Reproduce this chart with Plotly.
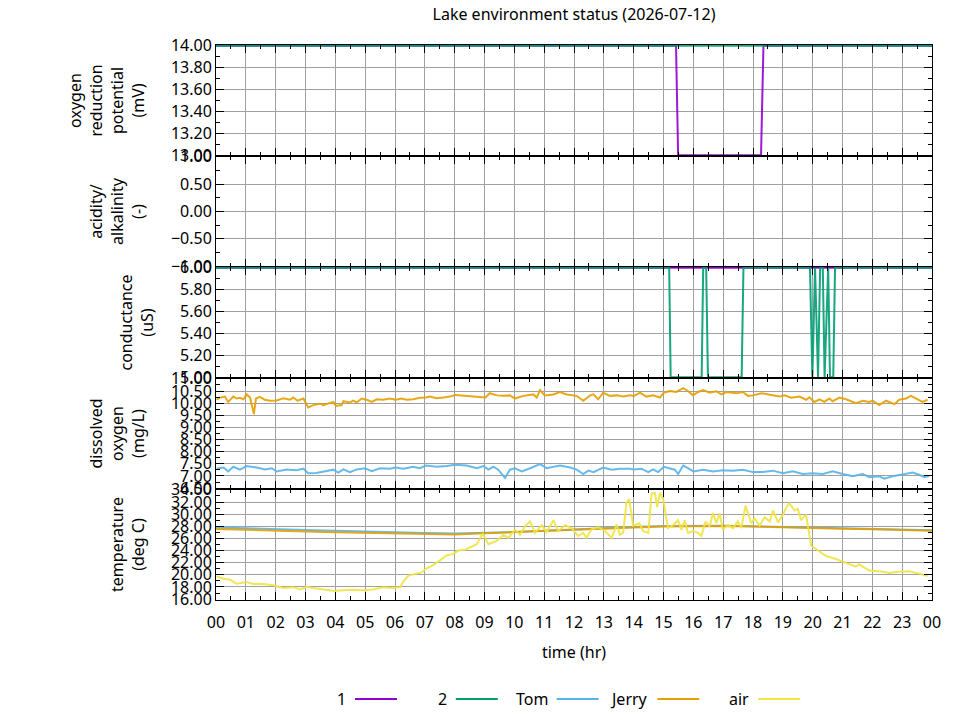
import plotly.graph_objects as go
from plotly.subplots import make_subplots

# ---- data (hours since midnight) ----
hour_ticks = list(range(25))
hour_labels = ["00", "01", "02", "03", "04", "05", "06", "07", "08", "09", "10", "11",
               "12", "13", "14", "15", "16", "17", "18", "19", "20", "21", "22", "23", "00"]

# oxygen reduction potential (mV)
orp1_t = [0, 15.42, 15.49, 18.27, 18.35, 24]
orp1_v = [14, 14, 13, 13, 14, 14]
orp2_t = [0, 24]
orp2_v = [14, 14]

# conductance (uS)
cond1_t = [0, 24]
cond1_v = [6, 6]
cond2_t = [0, 15.19, 15.24, 16.28, 16.33, 16.43, 16.49, 17.62, 17.68, 19.91, 19.99,
           20.08, 20.18, 20.25, 20.34, 20.40, 20.52, 20.58, 20.69, 20.75, 24]
cond2_v = [6, 6, 5, 5, 6, 6, 5, 5, 6, 6, 5, 6, 5, 6, 6, 5, 6, 5, 5, 6, 6]

# dissolved oxygen (mg/L)
do_tom_t = [0.02, 0.25, 0.41, 0.58, 0.80, 1.03, 1.36, 1.64, 1.87, 2.03, 2.37, 2.70,
            2.93, 3.09, 3.37, 3.60, 3.93, 4.10, 4.27, 4.49, 4.72, 4.99, 5.22, 5.50,
            5.83, 6.02, 6.28, 6.61, 6.84, 7.03, 7.40, 7.73, 8.02, 8.40, 8.74, 8.96,
            9.13, 9.30, 9.46, 9.69, 9.85, 10.02, 10.25, 10.53, 10.86, 11.08, 11.53, 11.87,
            12.09, 12.31, 12.48, 12.65, 12.81, 12.98, 13.26, 13.54, 13.87, 14.01, 14.26, 14.49,
            14.65, 14.82, 15.01, 15.21, 15.38, 15.49, 15.66, 15.82, 16.00, 16.33, 16.66, 16.99,
            17.33, 17.66, 18.00, 18.33, 18.67, 19.00, 19.34, 19.67, 20.00, 20.34, 20.67, 21.01,
            21.34, 21.68, 21.90, 22.23, 22.40, 22.68, 23.01, 23.35, 23.57, 23.74, 23.91]
do_tom_v = [7.30, 7.35, 7.19, 7.38, 7.26, 7.41, 7.35, 7.27, 7.32, 7.19, 7.27, 7.24,
            7.30, 7.11, 7.12, 7.19, 7.26, 7.14, 7.27, 7.16, 7.27, 7.32, 7.20, 7.32,
            7.30, 7.35, 7.30, 7.38, 7.32, 7.43, 7.38, 7.41, 7.46, 7.43, 7.32, 7.41,
            7.26, 7.38, 7.26, 6.92, 7.26, 7.32, 7.19, 7.32, 7.49, 7.32, 7.43, 7.35,
            7.26, 7.08, 7.22, 7.16, 7.26, 7.35, 7.26, 7.30, 7.30, 7.27, 7.30, 7.16,
            7.27, 7.16, 7.38, 7.32, 7.26, 7.08, 7.43, 7.32, 7.19, 7.26, 7.19, 7.24,
            7.22, 7.26, 7.16, 7.16, 7.22, 7.11, 7.19, 7.08, 7.11, 7.08, 7.19, 7.08,
            6.99, 7.08, 6.95, 6.99, 6.89, 6.99, 7.05, 7.14, 7.05, 6.95, 7.00]

do_jerry_t = [0.02, 0.13, 0.30, 0.41, 0.58, 0.69, 0.80, 0.92, 1.03, 1.14, 1.23, 1.27,
              1.34, 1.47, 1.64, 1.81, 2.03, 2.26, 2.48, 2.59, 2.73, 2.93, 3.09, 3.26,
              3.49, 3.60, 3.77, 3.93, 4.02, 4.21, 4.27, 4.49, 4.60, 4.72, 4.88, 5.05,
              5.22, 5.39, 5.61, 5.83, 6.02, 6.22, 6.39, 6.61, 6.84, 7.03, 7.17, 7.40,
              7.62, 7.84, 8.02, 8.29, 8.63, 9.03, 9.18, 9.41, 9.63, 9.85, 10.02, 10.30,
              10.64, 10.75, 10.86, 11.02, 11.31, 11.53, 11.75,
              12.09, 12.31, 12.54, 12.65, 12.81, 12.98, 13.20, 13.43, 13.65, 13.87, 14.01, 14.21,
              14.43, 14.65, 14.88, 15.01, 15.21, 15.43, 15.66, 15.82, 15.99, 16.16, 16.33, 16.55,
              16.77, 16.94, 17.11, 17.44, 17.66, 17.83, 18.00, 18.28, 18.56, 18.89, 19.06, 19.28,
              19.56, 19.78, 19.89, 20.06, 20.23, 20.39, 20.56, 20.67, 20.90, 21.12, 21.45, 21.68,
              21.90, 22.01, 22.23, 22.46, 22.74, 22.90, 23.13, 23.29, 23.52, 23.68, 23.85]
do_jerry_v = [10.14, 10.23, 10.27, 10.05, 10.27, 10.19, 10.22, 10.16, 10.36, 10.23, 9.76, 9.55,
              10.19, 10.26, 10.14, 10.10, 10.11, 10.20, 10.14, 10.23, 10.10, 10.19, 9.82, 9.92,
              9.97, 9.92, 9.99, 10.05, 9.89, 9.92, 10.08, 10.03, 10.10, 10.03, 10.19, 10.14,
              10.05, 10.16, 10.14, 10.19, 10.14, 10.19, 10.14, 10.16, 10.22, 10.23, 10.27, 10.20,
              10.23, 10.27, 10.34, 10.30, 10.27, 10.23, 10.41, 10.32, 10.30, 10.32, 10.19, 10.30,
              10.36, 10.23, 10.54, 10.32, 10.36, 10.46, 10.36,
              10.30, 10.10, 10.32, 10.36, 10.16, 10.43, 10.30, 10.32, 10.27, 10.32, 10.30, 10.43,
              10.27, 10.32, 10.23, 10.43, 10.50, 10.46, 10.62, 10.50, 10.32, 10.46, 10.54, 10.43,
              10.49, 10.36, 10.46, 10.41, 10.46, 10.30, 10.32, 10.41, 10.35, 10.27, 10.32, 10.22,
              10.27, 10.14, 10.24, 10.05, 10.16, 10.05, 10.19, 10.08, 10.23, 10.16, 10.00, 10.10,
              10.05, 10.10, 9.92, 10.10, 9.96, 10.14, 10.19, 10.30, 10.16, 10.05, 10.14]

# temperature (deg C)
water_t = list(range(25))
temp_tom_v = [27.80, 27.70, 27.55, 27.40, 27.25, 27.10, 27.00, 26.90, 26.80, 26.90, 27.05, 27.25,
              27.50, 27.70, 27.90, 28.05, 28.10, 28.10, 28.00, 27.90, 27.80, 27.70, 27.60, 27.50, 27.35]
temp_jerry_v = [27.55, 27.45, 27.30, 27.15, 27.00, 26.90, 26.80, 26.70, 26.65, 26.85, 27.05, 27.25,
                27.50, 27.65, 27.80, 27.95, 28.00, 28.05, 27.95, 27.80, 27.70, 27.60, 27.50, 27.40, 27.25]

air_t = [0.02, 0.25, 0.47, 0.69, 1.03, 1.25, 1.59, 1.92, 2.26, 2.59, 2.82, 3.04,
         3.37, 3.71, 3.99, 4.27, 4.60, 4.94, 5.27, 5.61, 5.89, 6.17, 6.28, 6.45,
         6.67, 6.89, 7.06, 7.28, 7.51, 7.73, 7.96, 8.12, 8.35, 8.51, 8.74, 8.94,
         9.13, 9.41, 9.63, 9.80, 10.02, 10.19, 10.36, 10.53, 10.69, 10.92, 11.08, 11.31,
         11.47, 11.70, 11.92,
         12.14, 12.31, 12.42, 12.59, 12.81, 13.04, 13.26, 13.43, 13.54, 13.65, 13.76, 13.85,
         13.98, 14.19, 14.32, 14.49, 14.60, 14.71, 14.79, 14.88, 14.99, 15.15, 15.32, 15.49,
         15.60, 15.71, 15.82, 15.99, 16.16, 16.27, 16.41, 16.55, 16.66, 16.77, 16.88, 16.99,
         17.16, 17.33, 17.49, 17.61, 17.75, 17.94, 18.05, 18.22, 18.39, 18.56, 18.67, 18.84,
         19.00, 19.12, 19.22, 19.39, 19.50, 19.61, 19.73, 19.78, 19.95, 20.17, 20.45, 20.78,
         21.12, 21.45, 21.56, 21.90, 22.34, 22.57, 22.90, 23.24, 23.57, 23.85]
air_v = [19.72, 19.35, 19.20, 18.55, 18.80, 18.50, 18.50, 18.30, 17.85, 17.97, 17.60, 18.03,
         17.76, 17.60, 17.35, 17.45, 17.55, 17.45, 17.60, 17.97, 17.85, 17.97, 18.90, 19.88,
         20.10, 20.40, 21.05, 21.60, 22.40, 23.20, 23.45, 24.00, 24.15, 24.50, 25.05, 26.80,
         25.05, 25.60, 26.60, 26.10, 27.45, 26.60, 28.00, 28.80, 26.90, 28.20, 27.00, 29.00,
         27.20, 28.20, 27.70,
         26.40, 26.90, 26.10, 27.50, 27.85, 27.20, 26.10, 28.30, 26.60, 27.00, 31.90, 32.50,
         28.10, 28.50, 27.20, 26.90, 33.40, 33.50, 31.15, 33.50, 32.50, 27.70, 28.20, 29.00,
         27.45, 29.00, 26.90, 27.20, 26.90, 26.40, 28.80, 28.00, 30.20, 28.50, 30.10, 27.45,
         28.20, 27.70, 28.80, 27.70, 31.40, 28.50, 29.30, 28.10, 29.50, 28.80, 30.60, 28.65,
         29.85, 31.15, 31.80, 30.60, 30.90, 29.00, 29.70, 29.85, 24.80, 24.00, 23.10, 22.60,
         21.90, 21.35, 21.70, 20.70, 20.50, 20.30, 20.50, 20.60, 20.20, 19.80]

# y axis tick values per panel
orp_ticks = [13.0, 13.2, 13.4, 13.6, 13.8, 14.0]
ph_ticks = [-1.0, -0.5, 0.0, 0.5, 1.0]
cond_ticks = [5.0, 5.2, 5.4, 5.6, 5.8, 6.0]
do_ticks = [6.5, 7.0, 7.5, 8.0, 8.5, 9.0, 9.5, 10.0, 10.5, 11.0]
temp_ticks = [16, 18, 20, 22, 24, 26, 28, 30, 32, 34]

colors = {"1": "#9400d3", "2": "#009e73", "Tom": "#56b4e9", "Jerry": "#e69f00", "air": "#f0e442"}
FONT = "Noto Sans"

fig = make_subplots(rows=5, cols=1, shared_xaxes=True, vertical_spacing=0)


def add_line(x, y, name, row):
    fig.add_trace(go.Scatter(x=x, y=y, mode="lines", name=name, showlegend=False,
                             line=dict(color=colors[name], width=2), opacity=0.9),
                  row=row, col=1)


add_line(orp1_t, orp1_v, "1", 1)
add_line(orp2_t, orp2_v, "2", 1)
# the pH panel has no points inside its range, but it still needs its axes
fig.add_trace(go.Scatter(x=[], y=[], mode="lines", showlegend=False), row=2, col=1)
add_line(cond1_t, cond1_v, "1", 3)
add_line(cond2_t, cond2_v, "2", 3)
add_line(do_tom_t, do_tom_v, "Tom", 4)
add_line(do_jerry_t, do_jerry_v, "Jerry", 4)
add_line(water_t, temp_tom_v, "Tom", 5)
add_line(water_t, temp_jerry_v, "Jerry", 5)
add_line(air_t, air_v, "air", 5)

panels = [
    ("oxygen<br>reduction<br>potential<br>(mV)", orp_ticks, 0.1),
    ("acidity/<br>alkalinity<br>(-)", ph_ticks, 0.25),
    ("conductance<br>(uS)", cond_ticks, 0.1),
    ("dissolved<br>oxygen<br>(mg/L)", do_ticks, 0.25),
    ("temperature<br>(deg C)", temp_ticks, 1),
]
for i, (title, ticks, minor_step) in enumerate(panels, start=1):
    pad = (ticks[-1] - ticks[0]) * 0.008  # so lines sitting on the frame are not cut in half
    fig.update_yaxes(row=i, col=1, range=[ticks[0] - pad, ticks[-1] + pad],
                     tickmode="array", tickvals=ticks,
                     tickformat=".2f", ticks="inside", ticklen=8, tickcolor="black",
                     showline=True, linecolor="black", linewidth=1, mirror="ticks",
                     showgrid=True, gridcolor="#a0a0a0", gridwidth=1, zeroline=False,
                     minor=dict(tickmode="linear", tick0=ticks[0], dtick=minor_step,
                                ticks="inside", ticklen=4, tickcolor="black", showgrid=False),
                     tickfont=dict(family=FONT, size=16, color="black"),
                     title=dict(text=title, standoff=22, font=dict(family=FONT, size=16, color="black")))

fig.update_xaxes(range=[0, 24], tickmode="array", tickvals=hour_ticks, ticktext=hour_labels,
                 ticks="inside", ticklen=8, tickcolor="black", showline=True, linecolor="black",
                 linewidth=1, mirror="ticks", showgrid=True, gridcolor="#a0a0a0", gridwidth=1,
                 zeroline=False,
                 minor=dict(tickmode="linear", tick0=0, dtick=0.5, ticks="inside", ticklen=4,
                            tickcolor="black", showgrid=False),
                 tickfont=dict(family=FONT, size=16, color="black"))
fig.update_xaxes(row=5, col=1, ticklabelstandoff=8,
                 title=dict(text="time (hr)", standoff=14, font=dict(family=FONT, size=16, color="black")))

# legend drawn below the plot: name, then a line sample
L, R, T, B = 216, 932, 45, 600


def px_x(px):
    return (px - L) / (R - L)


def px_y(py):
    return (B - py) / (B - T)


for k, name in enumerate(["1", "2", "Tom", "Jerry", "air"]):
    x0 = 355 + k * 100.8
    fig.add_annotation(xref="paper", yref="paper", x=px_x(x0 - 7), y=px_y(699), text=name,
                       showarrow=False, xanchor="right", yanchor="middle",
                       font=dict(family=FONT, size=16, color="black"))
    fig.add_shape(type="line", xref="paper", yref="paper", x0=px_x(x0), x1=px_x(x0 + 42),
                  y0=px_y(699), y1=px_y(699), line=dict(color=colors[name], width=2))

fig.update_layout(
    width=960, height=720,
    margin=dict(l=L, r=960 - R, t=T, b=720 - B),
    paper_bgcolor="white", plot_bgcolor="white",
    showlegend=False,
    font=dict(family=FONT, size=16, color="black"),
    title=dict(text="Lake environment status (2026-07-12)", x=0.5, xref="paper",
               y=1 - 14 / 720, yref="container", yanchor="middle",
               font=dict(family=FONT, size=16, color="black")),
)

fig.write_html("out.html", config={"displayModeBar": False},
               post_script="document.body.style.margin = '0';")
